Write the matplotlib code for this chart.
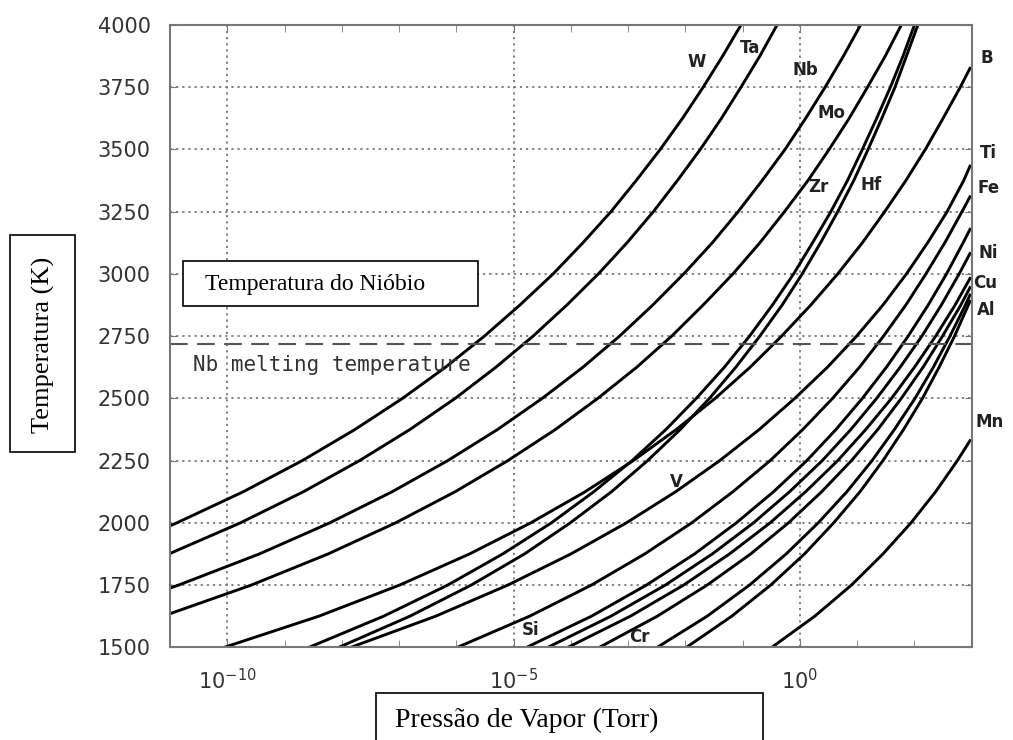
import numpy as np
import matplotlib
matplotlib.use('Agg')
import matplotlib.pyplot as plt
from matplotlib.patches import Rectangle

# curvas de pressao de vapor: temperatura (K) e log10 da pressao (Torr)
t_w = [1988, 2000, 2125, 2250, 2375, 2500, 2625, 2750, 2875, 3000, 3125, 3250, 3375, 3500, 3625, 3750, 3875, 4000]
p_w = [-11.0, -10.88, -9.72, -8.69, -7.77, -6.94, -6.19, -5.51, -4.89, -4.31, -3.79, -3.30, -2.86, -2.44, -2.05, -1.69, -1.35, -1.03]
t_ta = [1877, 2000, 2125, 2250, 2375, 2500, 2625, 2750, 2875, 3000, 3125, 3250, 3375, 3500, 3625, 3750, 3875, 4000]
p_ta = [-11.0, -9.77, -8.67, -7.69, -6.81, -6.02, -5.31, -4.66, -4.07, -3.52, -3.02, -2.56, -2.14, -1.74, -1.37, -1.03, -0.70, -0.40]
t_nb = [1738, 1750, 1875, 2000, 2125, 2250, 2375, 2500, 2625, 2750, 2875, 3000, 3125, 3250, 3375, 3500, 3625, 3750, 3875, 4000]
p_nb = [-11.0, -10.85, -9.44, -8.21, -7.12, -6.15, -5.28, -4.50, -3.79, -3.15, -2.57, -2.03, -1.53, -1.08, -0.66, -0.26, 0.10, 0.44, 0.76, 1.06]
t_mo = [1635, 1750, 1875, 2000, 2125, 2250, 2375, 2500, 2625, 2750, 2875, 3000, 3125, 3250, 3375, 3500, 3625, 3750, 3875, 4000]
p_mo = [-11.0, -9.58, -8.24, -7.06, -6.02, -5.10, -4.27, -3.53, -2.85, -2.24, -1.69, -1.17, -0.70, -0.27, 0.14, 0.51, 0.86, 1.18, 1.49, 1.77]
t_b = [1500, 1625, 1750, 1875, 2000, 2125, 2250, 2375, 2500, 2625, 2750, 2875, 3000, 3125, 3250, 3375, 3500, 3625, 3750, 3826]
p_b = [-10.05, -8.40, -6.99, -5.77, -4.70, -3.75, -2.91, -2.16, -1.48, -0.87, -0.32, 0.19, 0.66, 1.09, 1.48, 1.85, 2.19, 2.50, 2.80, 2.97]
t_zr = [1500, 1625, 1750, 1875, 2000, 2125, 2250, 2375, 2500, 2625, 2750, 2875, 3000, 3125, 3250, 3375, 3500, 3625, 3750, 3875, 4000]
p_zr = [-8.57, -7.27, -6.15, -5.19, -4.34, -3.60, -2.93, -2.34, -1.81, -1.32, -0.88, -0.48, -0.11, 0.22, 0.54, 0.83, 1.09, 1.34, 1.58, 1.80, 2.00]
t_hf = [1500, 1625, 1750, 1875, 2000, 2125, 2250, 2375, 2500, 2625, 2750, 2875, 3000, 3125, 3250, 3375, 3500, 3625, 3750, 3875, 4000]
p_hf = [-8.05, -6.81, -5.74, -4.81, -4.01, -3.29, -2.66, -2.09, -1.58, -1.12, -0.70, -0.31, 0.04, 0.36, 0.66, 0.94, 1.19, 1.43, 1.66, 1.86, 2.06]
t_ti = [1500, 1625, 1750, 1875, 2000, 2125, 2250, 2375, 2500, 2625, 2750, 2875, 3000, 3125, 3250, 3375, 3433]
p_ti = [-7.84, -6.36, -5.10, -4.00, -3.03, -2.17, -1.40, -0.71, -0.09, 0.48, 0.99, 1.45, 1.86, 2.23, 2.57, 2.86, 2.97]
t_fe = [1500, 1625, 1750, 1875, 2000, 2125, 2250, 2375, 2500, 2625, 2750, 2875, 3000, 3125, 3250, 3310]
p_fe = [-5.98, -4.72, -3.64, -2.71, -1.89, -1.17, -0.52, 0.05, 0.57, 1.04, 1.46, 1.85, 2.20, 2.53, 2.83, 2.97]
t_v = [1500, 1625, 1750, 1875, 2000, 2125, 2250, 2375, 2500, 2625, 2750, 2875, 3000, 3125, 3179]
p_v = [-4.77, -3.64, -2.68, -1.84, -1.11, -0.46, 0.12, 0.63, 1.09, 1.51, 1.89, 2.24, 2.56, 2.85, 2.97]
t_ni = [1500, 1625, 1750, 1875, 2000, 2125, 2250, 2375, 2500, 2625, 2750, 2875, 3000, 3082]
p_ni = [-4.40, -3.30, -2.35, -1.53, -0.81, -0.18, 0.39, 0.89, 1.34, 1.75, 2.13, 2.47, 2.78, 2.97]
t_cu = [1500, 1625, 1750, 1875, 2000, 2125, 2250, 2375, 2500, 2625, 2750, 2875, 2982]
p_cu = [-4.05, -2.96, -2.03, -1.23, -0.52, 0.10, 0.66, 1.15, 1.60, 2.00, 2.37, 2.71, 2.97]
t_si = [1500, 1625, 1750, 1875, 2000, 2125, 2250, 2375, 2500, 2625, 2750, 2875, 2945]
p_si = [-3.50, -2.49, -1.62, -0.86, -0.20, 0.38, 0.90, 1.36, 1.77, 2.15, 2.49, 2.81, 2.97]
t_cr = [1500, 1625, 1750, 1875, 2000, 2125, 2250, 2375, 2500, 2625, 2750, 2875, 2915]
p_cr = [-2.49, -1.62, -0.88, -0.24, 0.32, 0.82, 1.26, 1.65, 2.01, 2.33, 2.62, 2.89, 2.97]
t_al = [1500, 1625, 1750, 1875, 2000, 2125, 2250, 2375, 2500, 2625, 2750, 2890]
p_al = [-1.98, -1.19, -0.51, 0.08, 0.59, 1.05, 1.45, 1.81, 2.14, 2.43, 2.70, 2.97]
t_mn = [1500, 1625, 1750, 1875, 2000, 2125, 2250, 2330]
p_mn = [-0.49, 0.26, 0.90, 1.45, 1.94, 2.37, 2.75, 2.97]

curves = [(t_w, p_w), (t_ta, p_ta), (t_nb, p_nb), (t_mo, p_mo), (t_b, p_b),
          (t_zr, p_zr), (t_hf, p_hf), (t_ti, p_ti), (t_fe, p_fe), (t_v, p_v),
          (t_ni, p_ni), (t_cu, p_cu), (t_si, p_si), (t_cr, p_cr), (t_al, p_al),
          (t_mn, p_mn)]

# rotulos dos elementos (log10 P, T)
lab_names = ['W', 'Ta', 'Nb', 'Mo', 'Zr', 'Hf', 'B', 'Ti', 'Fe', 'Ni', 'Cu', 'Al', 'Mn', 'V', 'Si', 'Cr']
lab_logp = [-1.81, -0.87, 0.10, 0.56, 0.33, 1.25, 3.27, 3.29, 3.29, 3.29, 3.23, 3.25, 3.32, -2.16, -4.71, -2.80]
lab_t = [3851, 3908, 3819, 3646, 3349, 3357, 3867, 3486, 3345, 3084, 2963, 2855, 2404, 2163, 1568, 1540]

y_ticks = [1500, 1750, 2000, 2250, 2500, 2750, 3000, 3250, 3500, 3750, 4000]
x_ticks = [1e-10, 1e-5, 1e0]
x_tick_labels = [r'$10^{-10}$', r'$10^{-5}$', r'$10^{0}$']
nb_melt = 2720

W, H = 1013, 740
fig = plt.figure(figsize=(W / 100, H / 100), dpi=100)
ax = fig.add_axes([170 / W, 1 - 647.3 / H, 801.7 / W, 622.3 / H])

for t, p in curves:
    ax.plot(10.0 ** np.array(p), t, color='black', lw=2.1)

ax.axhline(nb_melt, color='#555', lw=1.5, dashes=(8.5, 4.5))

ax.set_xscale('log')
ax.set_xlim(1e-11, 1e3)
ax.set_ylim(1500, 4000)
ax.set_yticks(y_ticks)
ax.set_yticklabels([str(v) for v in y_ticks], fontsize=15, family='DejaVu Sans', color='#333')
ax.set_xticks(x_ticks)
ax.set_xticklabels(x_tick_labels, fontsize=15, color='#333')
ax.set_xticks(10.0 ** np.arange(-11, 4), minor=True)
ax.xaxis.set_minor_formatter(plt.NullFormatter())
ax.grid(True, which='major', color='#777', lw=1.3, dashes=(1.2, 2.2))
ax.tick_params(which='both', direction='in', top=True, right=True, length=5, color='#777')
ax.tick_params(axis='y', pad=14)
ax.tick_params(axis='x', pad=15)
for s in ax.spines.values():
    s.set_color('#777')
    s.set_linewidth(1.5)

ax.text(10 ** -10.6, 2635, 'Nb melting temperature', fontsize=15, color='#333',
        family='DejaVu Sans Mono', ha='left', va='center')

for name, lp, t in zip(lab_names, lab_logp, lab_t):
    ax.text(10.0 ** lp, t, name, fontsize=12, fontweight='bold', color='#222',
            family='DejaVu Sans', ha='center', va='center', clip_on=False)

# caixas de texto (rotulos dos eixos e legenda)
def box(x0, y0, x1, y1):
    fig.add_artist(Rectangle((x0 / W, 1 - y1 / H), (x1 - x0) / W, (y1 - y0) / H,
                             transform=fig.transFigure, facecolor='white',
                             edgecolor='black', lw=1.2, zorder=5))

box(183, 261, 478, 306)
fig.text(205 / W, 1 - 284 / H, 'Temperatura do Nióbio', fontsize=17, family='Liberation Serif',
         ha='left', va='center', zorder=6)

box(10, 235, 75, 452)
fig.text(43 / W, 1 - 345 / H, 'Temperatura (K)', fontsize=19, family='Liberation Serif',
         rotation=90, ha='center', va='center', zorder=6)

box(376, 693, 763, 760)
fig.text(395 / W, 1 - 720 / H, 'Pressão de Vapor (Torr)', fontsize=20, family='Liberation Serif',
         ha='left', va='center', zorder=6)

fig.savefig('out.png', dpi=100)
